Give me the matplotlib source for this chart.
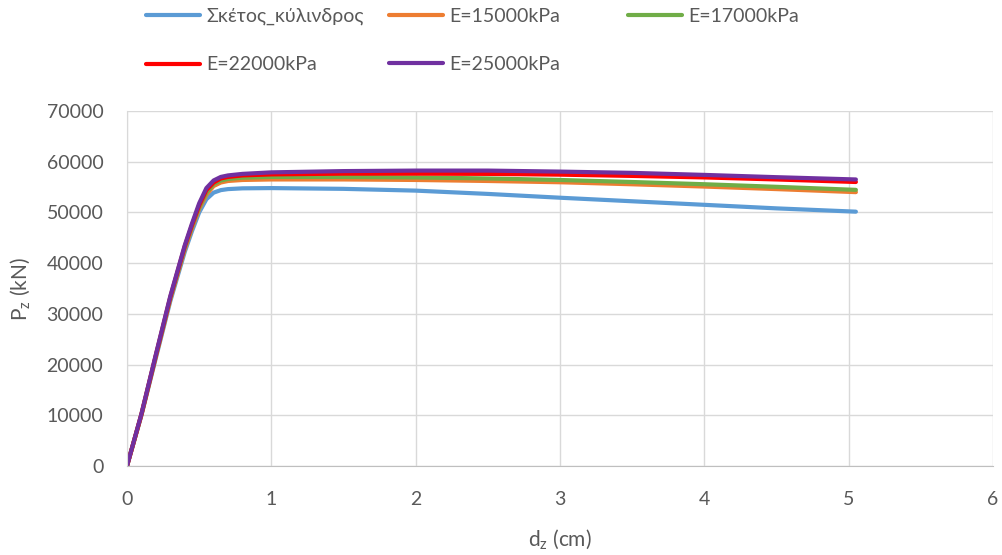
import matplotlib
matplotlib.use("Agg")
import matplotlib.pyplot as plt

# Displacement (cm) at which each load level was recorded
dz = [0.0, 0.1, 0.2, 0.3, 0.4, 0.45, 0.5, 0.55, 0.6, 0.65, 0.7, 0.8, 1.0,
      1.5, 2.0, 2.5, 3.0, 3.5, 4.0, 4.5, 5.05]

# Axial load Pz (kN) for each case
pz_plain = [0, 10000, 21300, 32500, 42200, 46300, 50000, 52600, 53900, 54400,
            54600, 54750, 54800, 54650, 54300, 53650, 52900, 52200, 51500, 50800, 50150]
pz_e15000 = [0, 10100, 21600, 32900, 42700, 46900, 50700, 53500, 55200, 55900,
             56200, 56400, 56500, 56500, 56400, 56200, 55950, 55550, 55100, 54600, 54000]
pz_e17000 = [0, 10150, 21700, 33100, 43000, 47200, 51000, 53900, 55600, 56300,
             56600, 56850, 57000, 57000, 56900, 56700, 56400, 56000, 55560, 55050, 54450]
pz_e22000 = [0, 10200, 21850, 33300, 43300, 47500, 51400, 54400, 55900, 56700,
             57000, 57300, 57500, 57650, 57650, 57600, 57450, 57200, 56900, 56500, 56000]
pz_e25000 = [0, 10300, 22000, 33500, 43500, 47800, 51800, 54800, 56300, 57000,
             57300, 57600, 57900, 58150, 58250, 58250, 58050, 57800, 57400, 56950, 56500]

labels = ["Σκέτος_κύλινδρος", "E=15000kPa", "E=17000kPa", "E=22000kPa", "E=25000kPa"]
colors = ["#5B9BD5", "#ED7D31", "#70AD47", "#FF0000", "#7030A0"]
series = [pz_plain, pz_e15000, pz_e17000, pz_e22000, pz_e25000]

xticks = [0, 1, 2, 3, 4, 5, 6]
yticks = [0, 10000, 20000, 30000, 40000, 50000, 60000, 70000]

plt.rcParams["font.family"] = ["Lato", "DejaVu Sans"]

text_color = "#595959"

fig = plt.figure(figsize=(10.03, 5.55), dpi=100)
ax = fig.add_axes([127 / 1003, 1 - 466 / 555, (993 - 127) / 1003, (466 - 111) / 555])

handles = []
for y, lab, c in zip(series, labels, colors):
    (h,) = ax.plot(dz, y, color=c, lw=3.0, label=lab, solid_capstyle="round",
                   solid_joinstyle="round")
    handles.append(h)

ax.set_xlim(0, 6)
ax.set_ylim(0, 70000)
ax.set_xticks(xticks)
ax.set_yticks(yticks)
ax.grid(True, color="#D9D9D9", lw=1.0)
ax.set_axisbelow(True)
for s in ["top", "right"]:
    ax.spines[s].set_visible(False)
ax.spines["left"].set_color("#D9D9D9")
ax.spines["bottom"].set_color("#BFBFBF")
ax.tick_params(length=0, labelsize=14, labelcolor=text_color)
ax.tick_params(axis="y", pad=17)
ax.tick_params(axis="x", pad=18)

ax.set_xlabel(r"d$_\mathregular{z}$ (cm)", fontsize=15, color=text_color, labelpad=14)
ax.set_ylabel(r"P$_\mathregular{z}$ (kN)", fontsize=15, color=text_color, labelpad=10)

# Legend laid out in three columns of equal width
columns = [([handles[0], handles[3]], 142), ([handles[1], handles[4]], 385), ([handles[2]], 624)]
for hs, xpx in columns:
    fig.legend(handles=hs, labels=[h.get_label() for h in hs],
               loc="upper left", bbox_to_anchor=(xpx / 1003, 1 - 4 / 555),
               frameon=False, fontsize=14, handlelength=2.8,
               handletextpad=0.3, labelspacing=1.6, borderaxespad=0,
               borderpad=0.2, labelcolor=text_color)

fig.savefig("out.png", dpi=100)
